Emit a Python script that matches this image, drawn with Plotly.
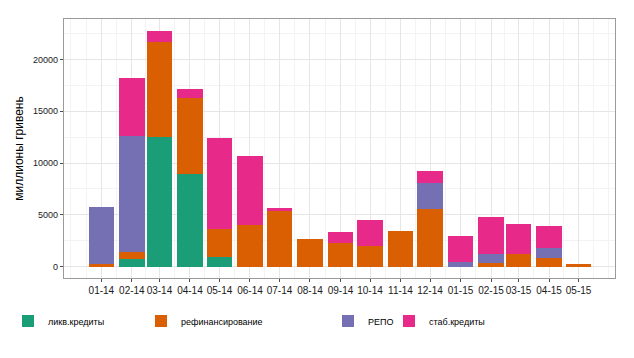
import pandas as pd
import plotly.graph_objects as go

months = ["2014-01-01", "2014-02-01", "2014-03-01", "2014-04-01", "2014-05-01",
          "2014-06-01", "2014-07-01", "2014-08-01", "2014-09-01", "2014-10-01",
          "2014-11-01", "2014-12-01", "2015-01-01", "2015-02-01", "2015-03-01",
          "2015-04-01", "2015-05-01"]
tick_labels = ["01-14", "02-14", "03-14", "04-14", "05-14", "06-14", "07-14", "08-14",
               "09-14", "10-14", "11-14", "12-14", "01-15", "02-15", "03-15", "04-15", "05-15"]

likv = [0, 740, 12490, 8960, 960, 0, 0, 0, 0, 0, 0, 0, 0, 0, 0, 0, 0]
refin = [250, 700, 9180, 7290, 2700, 4010, 5330, 2660, 2280, 2020, 3400, 5550, 0, 385, 1250, 870, 225]
repo = [5460, 11200, 0, 0, 0, 0, 0, 0, 0, 0, 0, 2540, 480, 870, 0, 960, 0]
stab = [0, 5520, 1120, 900, 8730, 6680, 290, 0, 1030, 2500, 0, 1120, 2440, 3530, 2890, 2120, 0]

series = [
    ("ликв.кредиты", likv, "#1B9E77"),
    ("рефинансирование", refin, "#D95F02"),
    ("РЕПО", repo, "#7570B3"),
    ("стаб.кредиты", stab, "#E7298A"),
]

W, H = 626, 350  # page body has an 8px margin

legend_names = ["legend", "legend2", "legend3", "legend4"]
legend_x = [0, 133, 320, 381]

bar_width_ms = 26 * 24 * 3600 * 1000

# ggplot-style minor breaks: majors extended by one step each side, plus midpoints
mt = pd.to_datetime(months)
ext = [mt[0] - (mt[1] - mt[0])] + list(mt) + [mt[-1] + (mt[-1] - mt[-2])]
minor_vals = []
for a, b in zip(ext[:-1], ext[1:]):
    minor_vals.append(a)
    minor_vals.append(a + (b - a) / 2)
minor_vals.append(ext[-1])
minor_vals = [d.strftime("%Y-%m-%d %H:%M:%S") for d in minor_vals]

fig = go.Figure()
for (name, vals, color), lg in zip(series, legend_names):
    fig.add_trace(go.Bar(
        x=months, y=vals, name=name, width=bar_width_ms,
        marker=dict(color=color, line=dict(width=0)),
        legend=lg,
    ))

font_family = "Liberation Sans, Arial, sans-serif"

layout_legends = {}
for lg, lx in zip(legend_names, legend_x):
    layout_legends[lg] = dict(
        xref="container", yref="container",
        x=lx / W, y=1 - 313 / H, xanchor="left", yanchor="middle",
        orientation="h", bgcolor="rgba(0,0,0,0)",
        font=dict(family=font_family, size=9, color="#000000"),
        itemwidth=30,
    )

fig.update_layout(
    barmode="stack",
    bargap=0,
    width=W, height=H,
    margin=dict(l=56, r=19, t=11, b=80),
    paper_bgcolor="white",
    plot_bgcolor="white",
    font=dict(family=font_family, color="#000000"),
    showlegend=True,
    **layout_legends,
)

fig.update_xaxes(
    type="date",
    range=["2013-11-24", "2015-06-07"],
    tickmode="array",
    tickvals=months,
    ticktext=tick_labels,
    tickangle=0,
    automargin=False,
    tickfont=dict(size=10, color="#1a1a1a"),
    ticks="outside", ticklen=3, tickcolor="#4d4d4d", tickwidth=1,
    showgrid=True, gridcolor="#e6e6e6", gridwidth=1,
    minor=dict(showgrid=True, gridcolor="#f3f3f3", gridwidth=1,
               tickmode="array", tickvals=minor_vals),
    showline=True, mirror=True, linecolor="#9a9a9a", linewidth=1.3,
    zeroline=False,
)

fig.update_yaxes(
    range=[-1100, 23900],
    automargin=False,
    tickmode="array",
    tickvals=[0, 5000, 10000, 15000, 20000],
    ticktext=["0", "5000", "10000", "15000", "20000"],
    tickfont=dict(size=9, color="#1a1a1a"),
    ticks="outside", ticklen=3, tickcolor="#4d4d4d", tickwidth=1,
    showgrid=True, gridcolor="#e6e6e6", gridwidth=1,
    minor=dict(showgrid=True, gridcolor="#f3f3f3", gridwidth=1,
               tick0=2500, dtick=5000),
    showline=True, mirror=True, linecolor="#9a9a9a", linewidth=1.3,
    zeroline=False,
    title=dict(text="миллионы гривень", font=dict(size=12, color="#000000"), standoff=6),
)

fig.write_html("out.html")
